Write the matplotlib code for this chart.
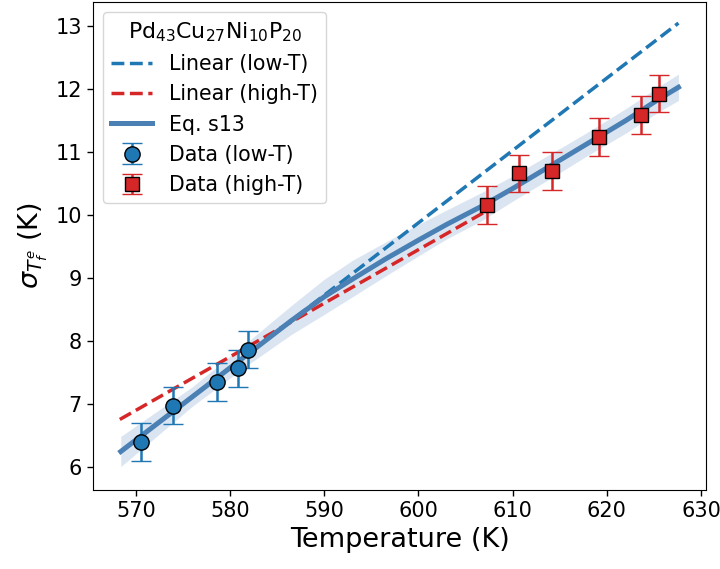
import numpy as np
import matplotlib
matplotlib.use("Agg")
import matplotlib.pyplot as plt

# data (low-T / high-T)
T_low = [570.58, 573.94, 578.60, 580.83, 581.92]
sig_low = [6.39, 6.97, 7.34, 7.56, 7.86]
err_low = [0.30, 0.30, 0.30, 0.30, 0.30]

T_high = [607.31, 610.66, 614.20, 619.17, 623.58, 625.56]
sig_high = [10.16, 10.66, 10.70, 11.24, 11.59, 11.93]
err_high = [0.30, 0.30, 0.30, 0.30, 0.30, 0.30]

# Eq. s13 curve and its band
T_fit = [568.4, 576.0, 582.0, 586.5, 590.0, 593.0, 596.5, 600.0, 603.0,
         606.6, 610.0, 614.0, 618.0, 622.0, 625.5, 627.6]
sig_fit = [6.24, 7.11, 7.80, 8.32, 8.70, 8.98, 9.30, 9.60, 9.85,
           10.13, 10.42, 10.78, 11.14, 11.50, 11.84, 12.03]
sig_up = [6.48, 7.27, 8.00, 8.56, 8.98, 9.28, 9.57, 9.85, 10.08,
          10.35, 10.62, 10.97, 11.32, 11.69, 12.04, 12.24]
sig_lo = [6.00, 6.96, 7.63, 8.10, 8.42, 8.70, 9.03, 9.35, 9.62,
          9.90, 10.22, 10.58, 10.95, 11.30, 11.64, 11.82]

# linear fits, end points
T_lin_low = [568.4, 627.6]
sig_lin_low = [6.24, 13.05]
T_lin_high = [568.3, 607.3]
sig_lin_high = [6.75, 10.07]

fig = plt.figure(figsize=(7.2, 5.69), dpi=100)
ax = fig.add_axes([0.129, 0.139, 0.852, 0.858])

ax.fill_between(T_fit, sig_lo, sig_up, color="#b7cde4", alpha=0.5, lw=0)
ax.plot(T_lin_low, sig_lin_low, "--", color="#1f77b4", lw=2.5, label="Linear (low-T)")
ax.plot(T_lin_high, sig_lin_high, "--", color="#d62728", lw=2.5, label="Linear (high-T)")
ax.plot(T_fit, sig_fit, "-", color="#4a80b4", lw=3.6, label="Eq. s13")
ax.errorbar(T_low, sig_low, yerr=err_low, fmt="o", color="#1f77b4", mec="black",
            mew=1.0, ms=11, capsize=7.5, elinewidth=1.8, capthick=1.8,
            ecolor="#1f77b4", label="Data (low-T)", zorder=5)
ax.errorbar(T_high, sig_high, yerr=err_high, fmt="s", color="#d62728", mec="black",
            mew=1.0, ms=10.5, capsize=7.5, elinewidth=1.8, capthick=1.8,
            ecolor="#d62728", label="Data (high-T)", zorder=5)

ax.set_xlim(565.44, 630.56)
ax.set_ylim(5.63, 13.39)
ax.set_xticks([570, 580, 590, 600, 610, 620, 630])
ax.set_yticks([6, 7, 8, 9, 10, 11, 12, 13])
ax.tick_params(labelsize=15, width=1.0, length=4.5)
ax.set_xlabel("Temperature (K)", fontsize=19.5)
ax.set_ylabel(r"$\sigma_{T_f^e}$ (K)", fontsize=19.5)

ax.legend(loc="upper left", fontsize=14.8, title=r"Pd$_{43}$Cu$_{27}$Ni$_{10}$P$_{20}$",
          title_fontsize=15.8, borderaxespad=0.5)

plt.savefig("out.png", dpi=100)
